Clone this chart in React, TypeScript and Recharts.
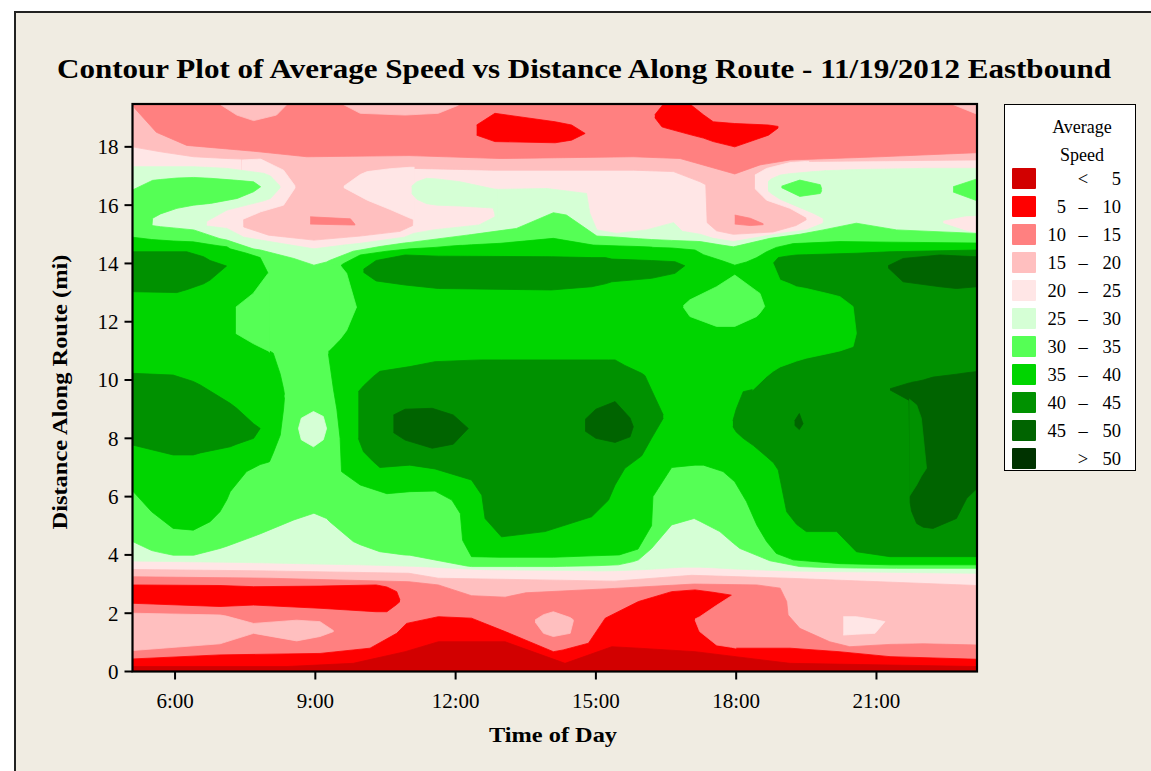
import React from "react";
import { ComposedChart, Area, XAxis, YAxis } from "recharts";

// speed bands (mph) and their colours
const bandLabels = ["<  5", "5  –  10", "10  –  15", "15  –  20", "20  –  25", "25  –  30", "30  –  35", "35  –  40", "40  –  45", "45  –  50", ">  50"];
const bandColors = ["#D20000", "#FF0000", "#FF8080", "#FFBFBF", "#FFE6E6", "#D5FFD5", "#55FF55", "#00D500", "#009100", "#006400", "#003300"];
const [C5, C10, C15, C20, C25, C30, C35, C40, C45, C50] = bandColors;

const timeTicks = [6, 9, 12, 15, 18, 21];
const distTicks = [0, 2, 4, 6, 8, 10, 12, 14, 16, 18];
const T0 = 5.09, T1 = 23.15, DTOP = 19.47;

type Row = [number, number, number]; // [time h, lower mi, upper mi]

// ---- red side (top of route) ----
const baseBand: Row[] = [[T0, 0, DTOP], [T1, 0, DTOP]];
const pinkTop: Row[] = [
  [5.09, 18.0, DTOP], [5.69, 17.83, DTOP], [6.4, 17.66, DTOP], [7.11, 17.6, DTOP], [7.43, 17.58, DTOP],
  [7.47, 15.25, DTOP], [8.0, 14.97, DTOP], [8.97, 14.8, DTOP], [9.96, 14.94, DTOP], [10.81, 15.1, DTOP],
  [11.08, 15.3, DTOP], [11.1, 17.26, DTOP], [12.8, 17.2, DTOP], [15.8, 17.2, DTOP], [16.66, 17.15, DTOP],
  [17.23, 16.8, DTOP], [17.35, 16.7, DTOP], [17.38, 15.4, DTOP], [17.58, 15.12, DTOP], [17.94, 15.0, DTOP],
  [18.79, 15.08, DTOP], [19.28, 15.3, DTOP], [19.5, 15.5, DTOP], [19.53, 17.5, DTOP], [23.15, 17.55, DTOP],
];
const paleLeftS: Row[] = [[7.43, 15.5, 17.55], [7.83, 15.77, 17.58], [8.32, 16.0, 17.2], [8.57, 16.6, 16.65]];
const paleLobe: Row[] = [[9.61, 16.6, 16.65], [9.96, 16.3, 17.05], [10.11, 16.17, 17.15], [10.6, 15.85, 17.25], [11.03, 15.55, 17.3], [11.12, 15.5, 17.3]];
const paleRightS: Row[] = [[18.4, 16.57, 17.03], [18.65, 16.17, 17.26], [19.15, 15.89, 17.46], [19.5, 15.58, 17.5], [19.56, 15.35, 17.5]];
const salmonTop: Row[] = [
  [5.09, 19.45, DTOP], [5.15, 19.3, DTOP], [5.6, 18.5, DTOP], [6.25, 18.05, DTOP], [7.68, 17.85, DTOP],
  [8.82, 17.66, DTOP], [11.0, 17.7, DTOP], [12.95, 17.6, DTOP], [15.8, 17.66, DTOP], [16.8, 17.6, DTOP],
  [17.97, 17.07, DTOP], [18.51, 17.38, DTOP], [19.15, 17.55, DTOP], [21.07, 17.66, DTOP], [23.15, 17.8, DTOP],
];
const pinkNotch: Row[] = [[6.96, 19.46, DTOP], [7.32, 19.09, DTOP], [7.68, 18.9, DTOP], [8.17, 19.09, DTOP], [8.39, 19.45, DTOP]];
const pinkStrip: Row[] = [[9.6, 19.45, DTOP], [9.96, 19.15, DTOP], [10.92, 19.09, DTOP], [11.63, 19.15, DTOP], [12.06, 19.43, DTOP]];
const pinkCorner: Row[] = [[22.64, 19.45, DTOP], [23.15, 19.12, DTOP]];
const redTopA: Row[] = [[12.45, 18.4, 18.75], [12.84, 18.18, 19.15], [14.13, 18.14, 18.86], [14.48, 18.23, 18.75], [14.77, 18.46, 18.46]];
const redTopB: Row[] = [
  [16.26, 19.0, 19.1], [16.41, 18.69, 19.4], [16.44, 18.67, DTOP], [17.01, 18.42, DTOP], [17.3, 18.3, 19.1],
  [17.51, 18.18, 18.86], [17.97, 18.0, 18.8], [18.69, 18.4, 18.75], [18.9, 18.65, 18.7],
];
const salmonIsleA: Row[] = [[8.89, 15.35, 15.6], [9.75, 15.32, 15.53], [9.85, 15.32, 15.34]];
const salmonIsleB: Row[] = [[17.97, 15.35, 15.66], [18.3, 15.3, 15.55], [18.58, 15.33, 15.36]];

// ---- red side (start of route) ----
const pinkBottom: Row[] = [[5.09, 0, 3.5], [8.0, 0, 3.45], [11.0, 0, 3.37], [11.63, 0, 3.2], [15.4, 0, 3.1], [17.05, 0, 3.3], [19.1, 0, 3.2], [23.15, 0, 2.95]];
const salmonBottom: Row[] = [
  [5.09, 0, 3.25], [8.0, 0, 3.2], [11.0, 0, 3.08], [11.63, 0, 2.97], [12.34, 0, 2.6], [13.06, 0, 2.55],
  [13.5, 0, 2.7], [15.4, 0, 2.85], [17.1, 0, 3.0], [18.44, 0, 2.97], [18.94, 0, 2.86], [19.08, 0, 2.4],
  [19.11, 0, 1.94], [19.36, 0, 1.48], [20.0, 0, 1.02], [20.43, 0, 0.85], [21.29, 0, 0.93], [22.0, 0, 0.95], [23.15, 0, 0.91],
];
const pinkTongue: Row[] = [[5.09, 0.72, 2.0], [6.96, 0.95, 1.94], [7.1, 1.02, 1.9], [7.68, 1.31, 1.65], [8.6, 1.05, 1.76], [9.1, 1.2, 1.71], [9.39, 1.37, 1.4]];
const pinkIsle: Row[] = [[13.7, 1.7, 1.77], [13.88, 1.31, 1.95], [14.09, 1.2, 2.05], [14.45, 1.31, 1.85], [14.52, 1.75, 1.77]];
const paleIsle: Row[] = [[20.29, 1.25, 1.88], [20.57, 1.28, 1.88], [20.97, 1.31, 1.78], [21.18, 1.71, 1.71]];
const redBand: Row[] = [[5.09, 2.34, 2.97], [6.96, 2.23, 2.95], [7.68, 2.28, 2.91], [9.1, 2.17, 2.93], [10.3, 2.05, 2.97], [10.53, 2.05, 2.9], [10.74, 2.3, 2.74], [10.81, 2.4, 2.45]];
const redBottom: Row[] = [
  [5.09, 0, 0.43], [6.96, 0, 0.57], [9.1, 0, 0.62], [10.17, 0, 0.8], [10.74, 0, 1.31], [10.95, 0, 1.65],
  [11.63, 0, 1.88], [12.34, 0, 1.83], [13.06, 0, 1.37], [14.09, 0, 0.68], [14.3, 0, 0.74], [14.84, 0, 0.97],
  [15.2, 0, 1.83], [15.91, 0, 2.4], [16.62, 0, 2.74], [17.12, 0, 2.8], [17.5, 0, 2.72], [17.9, 0, 2.62],
  [17.93, 0, 0.82], [18.01, 0, 0.8], [19.15, 0, 0.8], [20.2, 0, 0.68], [21.29, 0, 0.51], [23.15, 0, 0.42],
];
const salmonNotch: Row[] = [[17.12, 1.77, 1.8], [17.22, 1.37, 1.88], [17.58, 0.91, 2.27], [17.9, 0.83, 2.6], [18.0, 0.8, 2.6]];
const darkRed: Row[] = [
  [5.09, 0, 0.17], [8.39, 0, 0.17], [9.81, 0, 0.28], [10.92, 0, 0.68], [11.63, 0, 1.02], [13.06, 0, 1.02],
  [14.34, 0, 0.28], [15.34, 0, 0.85], [15.91, 0, 0.8], [17.12, 0, 0.68], [19.15, 0, 0.28], [23.15, 0, 0.17],
];

// ---- green side ----
const g25Core: Row[] = [
  [5.09, 3.79, 15.2], [6.6, 3.76, 15.3], [7.11, 3.75, 15.2], [7.47, 3.74, 14.9], [7.83, 3.73, 14.8],
  [8.97, 3.69, 14.5], [9.61, 3.67, 14.63], [9.96, 3.66, 14.69], [10.9, 3.62, 14.9], [11.1, 3.61, 15.03],
  [11.52, 3.58, 15.15], [12.5, 3.5, 15.32], [12.84, 3.49, 15.6], [12.87, 3.49, 16.54], [13.95, 3.47, 16.57],
  [14.8, 3.46, 16.4], [14.87, 3.46, 15.72], [15.02, 3.45, 15.15], [15.44, 3.46, 15.03], [16.08, 3.5, 15.15],
  [16.66, 3.56, 15.4], [16.85, 3.58, 15.1], [17.23, 3.58, 15.0], [17.51, 3.56, 14.86], [17.94, 3.52, 14.75],
  [18.94, 3.46, 15.03], [19.5, 3.44, 15.15], [19.86, 3.43, 15.38], [19.9, 3.43, 17.18], [20.57, 3.42, 17.22],
  [22.0, 3.39, 17.26], [23.15, 3.37, 17.26],
];
const g25LeftS: Row[] = [[5.09, 15.0, 17.32], [6.4, 15.0, 17.32], [6.64, 15.0, 17.3], [6.68, 15.45, 17.3], [7.11, 15.83, 17.26], [7.9, 16.15, 17.09], [8.04, 16.23, 17.0], [8.25, 16.6, 16.65]];
const g25Lobe: Row[] = [[11.06, 16.4, 16.65], [11.17, 16.2, 16.8], [11.38, 16.05, 16.92], [11.6, 16.0, 16.9], [12.1, 15.97, 16.8], [12.8, 15.9, 16.56], [12.9, 15.4, 16.54]];
const g25RightS: Row[] = [[18.68, 16.5, 16.8], [18.75, 16.4, 16.9], [18.94, 16.2, 17.03], [19.15, 16.06, 17.08], [19.65, 15.72, 17.15], [19.92, 15.5, 17.18]];
const paleRightTip: Row[] = [[22.43, 15.4, 15.45], [22.9, 15.15, 15.6], [23.15, 15.05, 15.62]];

const g30Core: Row[] = [
  [5.09, 4.46, 14.9], [5.5, 4.15, 15.3], [5.69, 4.08, 15.26], [5.96, 3.99, 15.22], [6.4, 3.99, 15.15],
  [6.96, 4.22, 14.85], [7.11, 4.3, 14.8], [7.67, 4.63, 14.5], [7.83, 4.73, 14.46], [8.54, 5.2, 14.17],
  [8.97, 5.43, 13.94], [9.24, 5.25, 14.05], [9.3, 5.15, 14.1], [9.81, 4.46, 14.42], [9.96, 4.35, 14.46],
  [10.38, 4.11, 14.58], [10.9, 4.0, 14.7], [11.02, 3.99, 14.72], [12.24, 3.62, 14.97], [12.34, 3.6, 14.99],
  [13.3, 3.6, 15.2], [14.09, 3.6, 15.74], [14.37, 3.61, 15.66], [15.02, 3.63, 14.94], [15.48, 3.66, 14.9],
  [15.8, 3.77, 14.86], [15.91, 3.83, 14.85], [16.19, 4.22, 14.82], [16.62, 5.03, 14.79], [17.1, 5.25, 14.76],
  [17.23, 5.15, 14.75], [17.65, 4.8, 14.64], [17.94, 4.4, 14.57], [18.08, 4.22, 14.62], [18.72, 3.8, 14.86],
  [19.36, 3.6, 15.0], [19.86, 3.57, 15.15], [20.57, 3.55, 15.38], [21.43, 3.54, 15.15], [23.15, 3.54, 15.03],
];
const g30Tongue: Row[] = [
  [5.09, 14.8, 16.52], [5.48, 14.8, 16.82], [5.52, 15.55, 16.85], [5.69, 15.7, 16.88], [6.04, 15.89, 16.93],
  [6.4, 16.0, 16.95], [6.76, 16.06, 16.92], [7.33, 16.23, 16.85], [7.68, 16.46, 16.8], [7.83, 16.63, 16.63],
];
const g30IsleA: Row[] = [[18.97, 16.6, 16.65], [19.36, 16.3, 16.86], [19.8, 16.4, 16.7], [19.83, 16.5, 16.55]];
const g30IsleB: Row[] = [[22.64, 16.45, 16.63], [23.15, 16.15, 16.9]];
const g25Isle: Row[] = [[8.64, 8.34, 8.34], [8.7, 7.95, 8.69], [8.96, 7.71, 8.92], [9.17, 7.95, 8.75], [9.24, 8.34, 8.34]];

const g35Left: Row[] = [
  [5.09, 6.2, 14.9], [5.5, 5.48, 14.82], [5.96, 4.91, 14.77], [6.39, 4.85, 14.74], [6.75, 5.14, 14.65],
  [6.96, 5.48, 14.6], [7.11, 5.9, 14.57], [7.18, 6.17, 14.5], [7.53, 6.86, 14.35], [7.82, 7.1, 14.2],
  [7.99, 7.18, 13.66], [8.02, 7.2, 11.0], [8.1, 7.5, 10.92], [8.25, 8.11, 10.2], [8.32, 9.0, 9.7], [8.34, 9.4, 9.5],
];
const g35Main: Row[] = [
  [9.28, 10.9, 11.0], [9.39, 9.66, 11.15], [9.46, 9.0, 11.3], [9.53, 8.0, 13.6], [9.56, 6.86, 13.95],
  [9.61, 6.8, 14.0], [9.96, 6.4, 14.29], [10.53, 6.1, 14.42], [11.02, 6.17, 14.5], [11.56, 6.19, 14.55],
  [11.92, 5.88, 14.6], [12.1, 5.42, 14.62], [12.15, 4.5, 14.62], [12.34, 3.94, 14.64], [12.95, 3.92, 14.69],
  [14.09, 3.92, 14.86], [14.94, 3.97, 14.63], [15.5, 4.0, 14.6], [15.9, 4.2, 14.58], [16.19, 5.0, 14.56],
  [16.22, 6.0, 14.55], [16.62, 7.0, 14.53], [17.12, 7.08, 14.46], [17.3, 7.08, 14.3], [17.72, 6.86, 14.08],
  [17.97, 6.51, 13.94], [18.22, 5.83, 14.05], [18.44, 5.03, 14.2], [18.65, 4.46, 14.4], [18.86, 4.05, 14.55],
  [19.22, 3.83, 14.68], [20.22, 3.7, 14.75], [21.29, 3.66, 14.73], [23.15, 3.66, 14.7],
];
const g30NotchA: Row[] = [[7.3, 11.6, 12.5], [7.67, 11.25, 12.97], [7.99, 11.0, 13.66], [8.03, 10.95, 13.6]];
const g30NotchB: Row[] = [[9.28, 11.0, 14.0], [9.53, 11.4, 13.94], [9.67, 11.7, 13.66], [9.88, 12.5, 12.5]];
const g30IsleC: Row[] = [[16.87, 12.5, 12.55], [17.01, 12.18, 12.75], [17.58, 11.84, 13.2], [17.97, 11.84, 13.6], [18.44, 12.18, 13.05], [18.51, 12.3, 12.97], [18.61, 12.52, 12.52]];

const g40A: Row[] = [[5.09, 13.03, 14.4], [6.04, 13.0, 14.4], [6.25, 13.1, 14.4], [6.61, 13.3, 14.23], [6.75, 13.43, 14.1], [7.1, 13.91, 13.91]];
const g40B: Row[] = [[5.09, 7.77, 10.23], [5.96, 7.43, 10.17], [6.39, 7.43, 9.95], [6.54, 7.5, 9.83], [7.18, 7.71, 9.2], [7.32, 7.8, 9.03], [7.68, 8.0, 8.5], [7.82, 8.34, 8.34]];
const g40C: Row[] = [
  [9.92, 8.0, 9.6], [10.03, 7.54, 9.8], [10.24, 7.2, 10.12], [10.38, 7.0, 10.3], [11.02, 7.08, 10.46],
  [11.56, 6.95, 10.63], [12.34, 6.57, 10.68], [12.56, 6.05, 10.69], [12.63, 5.25, 10.69], [12.98, 4.62, 10.69],
  [13.91, 4.8, 10.69], [14.91, 5.31, 10.69], [15.27, 5.88, 10.69], [15.41, 6.4, 10.69], [15.62, 6.97, 10.5],
  [15.98, 7.4, 10.23], [16.05, 7.6, 10.15], [16.19, 8.0, 9.66], [16.44, 8.69, 8.8],
];
const g40D: Row[] = [
  [10.03, 13.7, 13.8], [10.3, 13.4, 14.1], [10.92, 13.26, 14.29], [11.63, 13.14, 14.25], [14.05, 13.09, 14.23],
  [14.91, 13.2, 14.2], [15.2, 13.3, 14.2], [15.34, 13.37, 14.15], [16.19, 13.49, 14.1], [16.69, 13.66, 14.06], [16.9, 13.92, 13.92],
];
const g40E: Row[] = [
  [17.93, 8.4, 8.6], [18.0, 8.22, 9.0], [18.15, 8.0, 9.6], [18.37, 7.75, 9.68], [18.65, 7.37, 10.12],
  [18.77, 7.2, 10.3], [18.79, 7.18, 14.0], [18.9, 6.91, 14.2], [19.08, 5.48, 14.25], [19.29, 5.05, 14.29],
  [19.5, 4.8, 14.3], [20.15, 4.8, 14.33], [20.57, 4.11, 14.35], [21.29, 3.94, 14.4], [23.15, 3.94, 14.46],
];
const g35Bay: Row[] = [
  [18.35, 9.66, 14.0], [18.65, 10.12, 14.02], [18.79, 10.3, 14.0], [18.94, 10.45, 13.43], [19.15, 10.57, 13.3],
  [19.29, 10.65, 13.2], [19.5, 10.75, 13.14], [20.0, 10.92, 12.95], [20.22, 11.0, 12.86], [20.5, 11.15, 12.52], [20.57, 11.6, 11.6],
];

const g45A: Row[] = [[10.67, 8.2, 8.8], [10.92, 7.94, 9.0], [11.5, 7.66, 9.03], [11.95, 7.8, 8.8], [12.27, 8.34, 8.34]];
const g45B: Row[] = [[14.77, 8.25, 8.65], [15.0, 8.0, 9.0], [15.41, 7.86, 9.26], [15.73, 8.05, 8.7], [15.8, 8.4, 8.4]];
const g45C: Row[] = [
  [21.29, 9.66, 9.7], [21.7, 9.3, 9.9], [21.72, 5.8, 9.9], [21.75, 5.5, 9.92], [21.86, 5.08, 9.95],
  [22.0, 4.95, 10.0], [22.21, 4.91, 10.1], [22.71, 5.25, 10.2], [22.93, 5.94, 10.25], [23.15, 6.28, 10.29],
];
const g40Notch: Row[] = [[21.7, 6.0, 9.35], [21.86, 6.4, 9.14], [21.96, 6.7, 8.69], [22.07, 6.97, 6.97]];
const g45D: Row[] = [[21.25, 13.85, 13.92], [21.57, 13.37, 14.17], [22.36, 13.2, 14.29], [22.71, 13.14, 14.26], [23.15, 13.2, 14.23]];
const g45Dot: Row[] = [[19.25, 8.45, 8.6], [19.35, 8.3, 8.85], [19.43, 8.5, 8.5]];

// painting order: later patches sit on top
const patches: [Row[], string][] = [
  [baseBand, C25], [pinkTop, C20], [paleLeftS, C25], [paleLobe, C25], [paleRightS, C25],
  [salmonTop, C15], [pinkNotch, C20], [pinkStrip, C20], [pinkCorner, C20], [redTopA, C10], [redTopB, C10],
  [salmonIsleA, C15], [salmonIsleB, C15],
  [pinkBottom, C20], [salmonBottom, C15], [pinkTongue, C20], [pinkIsle, C20], [paleIsle, C25],
  [redBand, C10], [redBottom, C10], [salmonNotch, C15], [darkRed, C5],
  [g25Core, C30], [g25LeftS, C30], [g25Lobe, C30], [g25RightS, C30], [paleRightTip, C25],
  [g30Core, C35], [g30Tongue, C35], [g30IsleA, C35], [g30IsleB, C35], [g25Isle, C30],
  [g35Left, C40], [g35Main, C40], [g30NotchA, C35], [g30NotchB, C35],
  [g40A, C45], [g40B, C45], [g40C, C45], [g40D, C45], [g40E, C45], [g35Bay, C40], [g30IsleC, C35],
  [g45A, C50], [g45B, C50], [g45C, C50], [g40Notch, C45], [g45D, C50], [g45Dot, C50],
];

const SERIF = "'Liberation Serif', 'Times New Roman', serif";
const PL = 132.5, PT = 104, PR = 977, PB = 671.5;
const Y_W = 60, X_H = 40;

export default function App() {
  return (
    <div style={{ position: "absolute", left: 0, top: 0, width: 1151, height: 771, background: "#fff", overflow: "hidden", fontFamily: SERIF }}>
      <div style={{ position: "absolute", left: 14, top: 11, width: 1200, height: 800, background: "#F0ECE2", borderLeft: "2px solid #222", borderTop: "2px solid #222" }} />
      <div style={{ position: "absolute", left: 0, top: 0 }}>
        <ComposedChart width={1151} height={771} margin={{ top: PT, right: 1151 - PR, bottom: 771 - PB - X_H, left: PL - Y_W }}>
          <XAxis
            type="number"
            dataKey="t"
            domain={[T0, T1]}
            allowDataOverflow
            ticks={timeTicks}
            interval={0}
            tickFormatter={(v: number) => `${v}:00`}
            height={X_H}
            axisLine={false}
            tickSize={8}
            tickMargin={14}
            tickLine={{ stroke: "#000", strokeWidth: 2 }}
            tick={{ fill: "#000", fontSize: 21, fontFamily: SERIF }}
          />
          <YAxis
            type="number"
            domain={[0, DTOP]}
            allowDataOverflow
            ticks={distTicks}
            interval={0}
            width={Y_W}
            axisLine={false}
            tickSize={8}
            tickMargin={6}
            tickLine={{ stroke: "#000", strokeWidth: 2 }}
            tick={{ fill: "#000", fontSize: 21, fontFamily: SERIF }}
          />
          {patches.map(([rows, color], i) => (
            <Area
              key={i}
              data={rows.map(([t, lo, hi]) => ({ t, r: [lo, hi] }))}
              dataKey="r"
              type="linear"
              fill={color}
              fillOpacity={1}
              stroke={color}
              strokeWidth={0.8}
              dot={false}
              activeDot={false}
              isAnimationActive={false}
            />
          ))}
        </ComposedChart>
      </div>
      <svg width={1151} height={771} style={{ position: "absolute", left: 0, top: 0, pointerEvents: "none" }}>
        <rect x={PL} y={PT} width={PR - PL} height={PB - PT} fill="none" stroke="#000" strokeWidth={2.2} />
        <text x={584} y={78} textAnchor="middle" fontSize={28} fontWeight="bold" fontFamily={SERIF} textLength={1054} lengthAdjust="spacingAndGlyphs">
          Contour Plot of Average Speed vs Distance Along Route - 11/19/2012 Eastbound
        </text>
        <text x={553} y={742} textAnchor="middle" fontSize={22} fontWeight="bold" fontFamily={SERIF} textLength={128} lengthAdjust="spacingAndGlyphs">
          Time of Day
        </text>
        <text transform="translate(67,392) rotate(-90)" textAnchor="middle" fontSize={22} fontWeight="bold" fontFamily={SERIF} textLength={275} lengthAdjust="spacingAndGlyphs">
          Distance Along Route (mi)
        </text>
      </svg>
      <div style={{ position: "absolute", left: 1004, top: 104, width: 132, height: 367, background: "#fff", border: "1.5px solid #000", boxSizing: "border-box" }}>
        <div style={{ position: "absolute", left: 0, width: 154, top: 8, textAlign: "center", fontSize: 18, lineHeight: "28px" }}>
          Average
          <br />
          Speed
        </div>
        {bandLabels.map((lab, i) => {
          const parts = lab.split(/\s+/);
          const left = parts.length === 3 ? parts[0] : "";
          const mid = parts.length === 3 ? parts[1] : parts[0];
          const right = parts[parts.length - 1];
          return (
            <div key={lab} style={{ position: "absolute", left: 0, top: 63 + i * 28, height: 22, width: 132, fontSize: 18.5, lineHeight: "22px" }}>
              <div style={{ position: "absolute", left: 7, top: 0, width: 24, height: 21, background: bandColors[i], borderRadius: 1 }} />
              <span style={{ position: "absolute", right: 71, textAlign: "right" }}>{left}</span>
              <span style={{ position: "absolute", left: 70, width: 16, textAlign: "center" }}>{mid}</span>
              <span style={{ position: "absolute", right: 16, textAlign: "right" }}>{right}</span>
            </div>
          );
        })}
      </div>
    </div>
  );
}
